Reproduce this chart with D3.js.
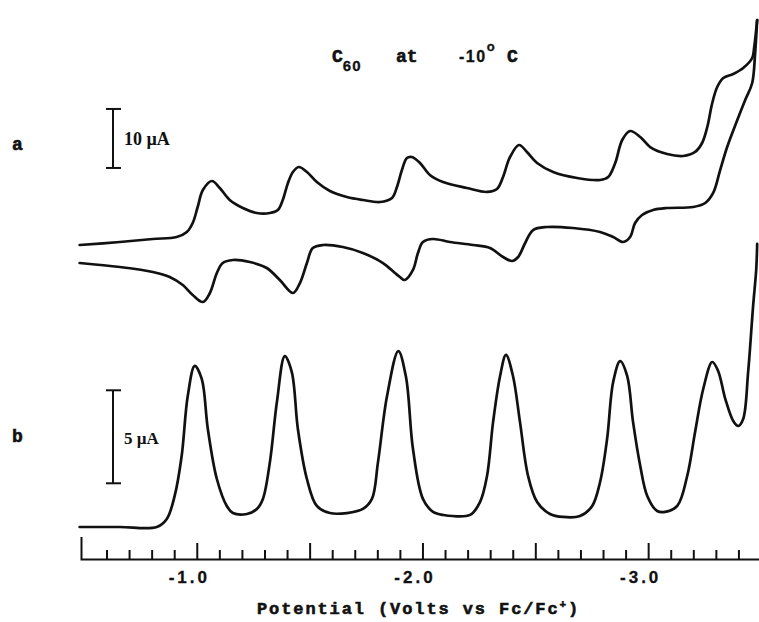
<!DOCTYPE html>
<html>
<head>
<meta charset="utf-8">
<script src="https://cdn.jsdelivr.net/npm/d3@7"></script>
<style>
  html, body { margin: 0; padding: 0; background: #fff; }
  svg { display: block; }
  .trace { fill: none; stroke: #111; stroke-width: 2.7; stroke-linejoin: round; stroke-linecap: round; }
  .mono { font-family: "Liberation Mono", "DejaVu Sans Mono", monospace; font-weight: bold; fill: #111;
          stroke: #111; stroke-width: 0.6px; }
  .digits { font-family: "Liberation Sans", Arial, sans-serif; font-weight: bold; fill: #111;
            stroke: #111; stroke-width: 0.3px; }
  .serif { font-family: "Liberation Serif", "DejaVu Serif", serif; font-weight: bold; fill: #111; }
  .axis path, .axis line { stroke: #111; stroke-width: 2; }
</style>
</head>
<body>
<svg id="chart" width="759" height="622"></svg>
<script>
// potential (V vs Fc/Fc+), current (uA) ; CV forward scan (upper trace, going negative)
const cvForwardV = [-0.481, -0.659, -0.805, -0.911, -0.956, -0.982, -1.004, -1.027, -1.067, -1.102,
  -1.146, -1.204, -1.266, -1.324, -1.359, -1.381, -1.404, -1.426, -1.452, -1.488,
  -1.532, -1.590, -1.665, -1.736, -1.812, -1.865, -1.887, -1.909, -1.931, -1.953,
  -1.989, -2.033, -2.091, -2.197, -2.286, -2.330, -2.357, -2.388, -2.428, -2.463,
  -2.508, -2.579, -2.685, -2.787, -2.823, -2.854, -2.885, -2.920, -2.965, -3.009,
  -3.084, -3.155, -3.208, -3.239, -3.262, -3.284, -3.306, -3.333, -3.377, -3.421,
  -3.461, -3.470, -3.483];
const cvForwardI = [2.54, 3.05, 3.56, 3.90, 4.75, 6.27, 8.98, 11.86, 13.39, 12.20,
  10.17, 8.81, 7.97, 7.97, 8.47, 10.17, 13.05, 14.92, 15.76, 14.92,
  13.22, 11.69, 10.68, 10.17, 9.83, 10.51, 12.37, 15.25, 17.29, 17.46,
  16.44, 14.41, 13.22, 12.20, 11.53, 12.03, 14.07, 17.46, 19.49, 18.31,
  16.44, 14.92, 13.90, 13.56, 14.07, 16.44, 20.34, 21.86, 20.85, 19.15,
  17.97, 17.63, 18.31, 19.83, 22.54, 26.61, 29.32, 30.85, 31.53, 32.54,
  34.24, 36.10, 40.68];

// CV reverse scan (lower trace, coming back)
const cvReverseV = [-3.483, -3.474, -3.461, -3.430, -3.395, -3.350, -3.319, -3.288, -3.253, -3.200,
  -3.084, -3.022, -2.973, -2.942, -2.920, -2.889, -2.845, -2.787, -2.667, -2.552,
  -2.490, -2.455, -2.424, -2.397, -2.357, -2.299, -2.224, -2.122, -2.047, -2.002,
  -1.980, -1.958, -1.922, -1.900, -1.878, -1.825, -1.736, -1.647, -1.559, -1.514,
  -1.488, -1.457, -1.426, -1.368, -1.310, -1.235, -1.160, -1.115, -1.089, -1.058,
  -1.027, -0.982, -0.938, -0.880, -0.805, -0.659, -0.481];
const cvReverseI = [40.68, 35.08, 30.00, 27.12, 23.73, 19.15, 15.25, 11.36, 9.66, 8.98,
  8.81, 8.47, 7.63, 6.27, 3.90, 3.05, 3.90, 4.75, 5.42, 5.59,
  5.08, 2.88, 0.51, -0.17, 0.51, 2.03, 2.54, 3.05, 3.56, 3.05,
  1.19, -1.69, -3.39, -2.88, -2.20, -0.51, 1.19, 2.20, 2.54, 2.03,
  -0.51, -3.90, -5.59, -3.39, -1.36, -0.34, 0.00, -0.51, -2.20, -5.59,
  -7.12, -5.93, -4.24, -2.88, -2.03, -1.19, -0.51];

// Osteryoung square wave voltammogram
const swvV = [-0.481, -0.659, -0.823, -0.867, -0.902, -0.933, -0.960, -0.991, -1.022, -1.049,
  -1.089, -1.133, -1.160, -1.222, -1.266, -1.293, -1.324, -1.355, -1.390, -1.421,
  -1.448, -1.488, -1.532, -1.590, -1.665, -1.736, -1.776, -1.803, -1.843, -1.893,
  -1.927, -1.958, -2.002, -2.047, -2.091, -2.211, -2.255, -2.286, -2.313, -2.344,
  -2.370, -2.401, -2.432, -2.468, -2.508, -2.565, -2.623, -2.698, -2.752, -2.787,
  -2.818, -2.845, -2.876, -2.907, -2.933, -2.965, -2.996, -3.040, -3.075, -3.129,
  -3.173, -3.208, -3.244, -3.284, -3.310, -3.342, -3.377, -3.399, -3.421, -3.443,
  -3.465, -3.479, -3.483];
const swvI = [0.00, 0.00, 0.00, 0.43, 1.67, 3.82, 7.04, 8.66, 7.96, 5.27,
  2.58, 1.13, 0.75, 0.70, 0.97, 1.51, 3.49, 6.72, 9.19, 8.33,
  5.27, 2.58, 1.13, 0.75, 0.75, 0.97, 1.51, 3.49, 7.04, 9.46,
  8.06, 4.19, 1.51, 0.81, 0.65, 0.65, 1.34, 2.74, 5.65, 8.12,
  9.25, 8.12, 5.65, 2.74, 1.34, 0.70, 0.54, 0.59, 1.13, 2.42,
  4.73, 7.80, 8.92, 8.12, 5.65, 3.28, 1.67, 0.86, 0.81, 1.13,
  2.74, 5.11, 7.42, 8.87, 8.39, 6.88, 5.70, 5.43, 5.81, 8.33,
  11.88, 13.87, 15.22];

const minorTicks = d3.range(6, 35).map((k) => -k / 10).filter((v) => Math.abs(v * 2 - Math.round(v * 2)) > 1e-6);
const majorTicks = [-1.0, -1.5, -2.0, -2.5, -3.0];
const tickLabels = { "-1": "-1.0", "-2": "-2.0", "-3": "-3.0" };

const svg = d3.select("#chart");

const x = d3.scaleLinear().domain([-0.487, -3.5]).range([81, 761]);
// two current scales: 10 uA = 59 px (CV), 5 uA = 93 px (SWV)
const yCV = d3.scaleLinear().domain([0, 10]).range([260, 201]);
const ySW = d3.scaleLinear().domain([0, 5]).range([527, 434]);

const cvLine = d3.line().x((d) => x(d[0])).y((d) => yCV(d[1])).curve(d3.curveCatmullRom.alpha(0.5));
const swLine = d3.line().x((d) => x(d[0])).y((d) => ySW(d[1])).curve(d3.curveCatmullRom.alpha(0.5));

svg.append("path").attr("class", "trace").attr("d", cvLine(d3.zip(cvForwardV, cvForwardI)));
svg.append("path").attr("class", "trace").attr("d", cvLine(d3.zip(cvReverseV, cvReverseI)));
svg.append("path").attr("class", "trace").attr("d", swLine(d3.zip(swvV, swvI)));

// axis along the bottom, ticks pointing up
const axisY = 559;
svg.append("g").attr("class", "axis").attr("transform", `translate(0,${axisY})`)
  .call(d3.axisBottom(x).tickValues(minorTicks).tickSize(-9).tickSizeOuter(-22).tickFormat(""));
svg.append("g").attr("class", "axis major").attr("transform", `translate(0,${axisY})`)
  .call(d3.axisBottom(x).tickValues(majorTicks).tickSize(-16).tickSizeOuter(0).tickPadding(12)
    .tickFormat((d) => tickLabels[String(d)] || ""))
  .call((g) => g.select(".domain").remove())
  .call((g) => g.selectAll("text").attr("class", "digits").attr("dx", -8)
    .style("font-size", "17px").style("letter-spacing", "3px"));

svg.append("text").attr("class", "mono").attr("x", 257).attr("y", 614)
  .style("font-size", "17px").style("letter-spacing", "1.9px")
  .text("Potential (Volts vs Fc/Fc")
  .append("tspan").attr("dy", -6).style("font-size", "11px").text("+")
  .select(function () { return this.parentNode; })
  .append("tspan").attr("dy", 6).text(")");

// title
const title = svg.append("text").attr("class", "mono").attr("x", 332).attr("y", 62).style("font-size", "18px");
title.append("tspan").text("C");
title.append("tspan").attr("class", "digits").attr("dy", 9).style("font-size", "15px").style("letter-spacing", "1px").text("60");
title.append("tspan").attr("x", 396).attr("y", 62).text("at");
title.append("tspan").attr("class", "digits").attr("x", 459).style("font-size", "16px").style("letter-spacing", "1.5px").text("-10");
title.append("tspan").attr("class", "digits").attr("dy", -11).style("font-size", "13px").text("o");
title.append("tspan").attr("x", 507).attr("y", 62).text("C");

// panel letters
svg.append("text").attr("class", "mono").attr("x", 12).attr("y", 150).style("font-size", "18px").text("a");
svg.append("text").attr("class", "mono").attr("x", 12).attr("y", 442).style("font-size", "18px").text("b");

// scale bars
function scaleBar(y, lo, hi, label, labelY, size) {
  const bx = 113;
  const g = svg.append("g").attr("stroke", "#111").attr("stroke-width", 2);
  g.append("line").attr("x1", bx).attr("x2", bx).attr("y1", y(lo)).attr("y2", y(hi));
  g.append("line").attr("x1", bx - 7).attr("x2", bx + 8).attr("y1", y(lo)).attr("y2", y(lo));
  g.append("line").attr("x1", bx - 7).attr("x2", bx + 8).attr("y1", y(hi)).attr("y2", y(hi));
  svg.append("text").attr("class", "serif").attr("x", bx + 11).attr("y", labelY)
    .style("font-size", size).text(label);
}
scaleBar(yCV, 15.6, 25.6, "10 \u00b5A", 145, "18px");
scaleBar(ySW, 2.35, 7.35, "5 \u00b5A", 444, "17px");
</script>
</body>
</html>
